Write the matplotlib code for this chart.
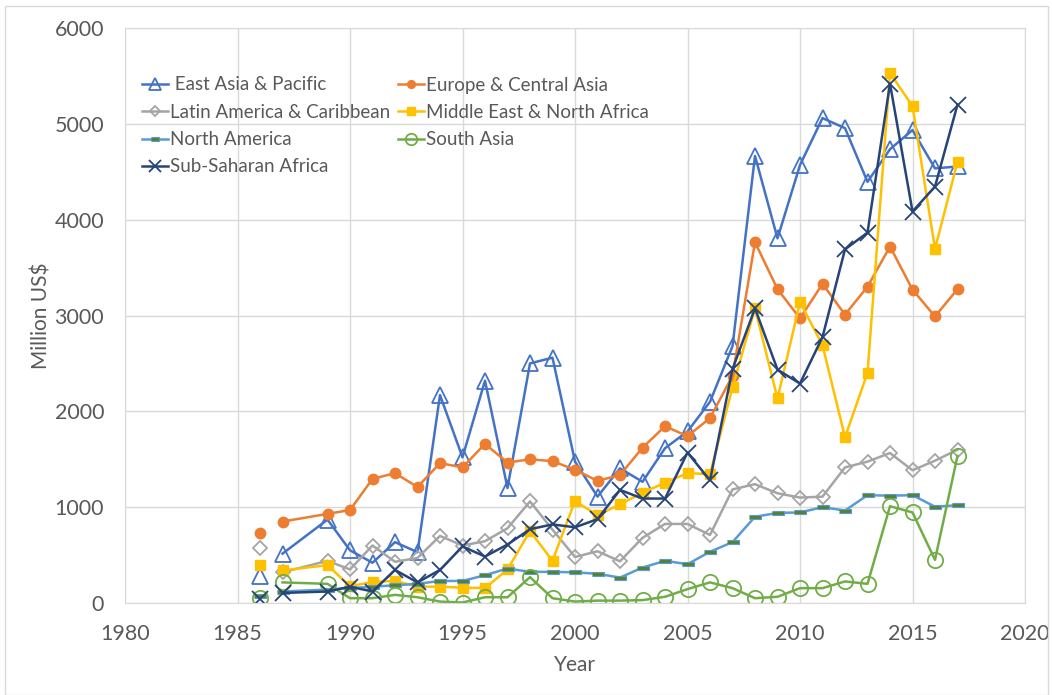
import matplotlib
matplotlib.use("Agg")
import matplotlib.pyplot as plt
from matplotlib.patches import Rectangle

plt.rcParams['font.family'] = ['Lato', 'DejaVu Sans']

# years with data (1988 missing, 1986 shown as loose points)
years = [1986, 1987, 1989, 1990, 1991, 1992, 1993, 1994, 1995, 1996, 1997, 1998, 1999,
         2000, 2001, 2002, 2003, 2004, 2005, 2006, 2007, 2008, 2009,
         2010, 2011, 2012, 2013, 2014, 2015, 2016, 2017]

east_asia = [280, 515, 870, 550, 420, 635, 530, 2170, 1520, 2320, 1200, 2500, 2560,
             1475, 1110, 1405, 1265, 1615, 1790, 2100, 2680, 4665, 3805,
             4570, 5060, 4955, 4395, 4735, 4935, 4535, 4555]
europe = [730, 850, 930, 970, 1295, 1355, 1210, 1460, 1415, 1660, 1465, 1500, 1480,
          1390, 1275, 1335, 1620, 1845, 1740, 1930, 2370, 3765, 3275,
          2970, 3330, 3010, 3300, 3720, 3270, 2990, 3275]
latin = [570, 320, 440, 350, 600, 430, 470, 700, 600, 645, 780, 1060, 765,
         480, 540, 435, 680, 825, 825, 710, 1185, 1240, 1145,
         1100, 1110, 1415, 1475, 1565, 1385, 1485, 1600]
mena = [400, 340, 395, 175, 220, 230, 170, 170, 160, 155, 350, 750, 440,
        1065, 915, 1030, 1150, 1255, 1355, 1345, 2250, 3075, 2135,
        3140, 2690, 1730, 2400, 5530, 5185, 3695, 4605]
north_america = [70, 120, 140, 155, 170, 185, 200, 230, 230, 290, 360, 325, 325,
                 320, 305, 265, 370, 440, 405, 535, 635, 900, 940,
                 945, 1000, 965, 1125, 1120, 1125, 1005, 1020]
south_asia = [50, 215, 200, 50, 50, 85, 60, 15, 5, 60, 60, 270, 50,
              15, 25, 25, 30, 65, 145, 215, 155, 50, 65,
              155, 155, 225, 200, 1010, 945, 450, 1535]
ssa = [40, 105, 120, 170, 120, 345, 215, 345, 590, 485, 610, 770, 820,
       790, 875, 1180, 1090, 1090, 1570, 1280, 2440, 3075, 2435,
       2290, 2775, 3690, 3865, 5420, 4085, 4345, 5200]

dash = [(-1, -0.4), (1, -0.4), (1, 0.4), (-1, 0.4)]

# name, values, line colour, marker style
series = [
    (' East Asia & Pacific', east_asia, '#4472C4',
     dict(marker='^', ms=11.5, mfc='none', mec='#4472C4', mew=1.3)),
    ('Europe & Central Asia', europe, '#ED7D31',
     dict(marker='o', ms=7.5, mfc='#ED7D31', mec='#ED7D31')),
    ('Latin America & Caribbean', latin, '#A5A5A5',
     dict(marker='D', ms=7, mfc='none', mec='#A5A5A5', mew=1.3)),
    ('Middle East & North Africa', mena, '#FFC000',
     dict(marker='s', ms=7, mfc='#FFC000', mec='#FFC000')),
    ('North America', north_america, '#5B9BD5',
     dict(marker=dash, ms=8, mfc='#548235', mec='#5B9BD5', mew=0.8)),
    ('South Asia', south_asia, '#70AD47',
     dict(marker='o', ms=11, mfc='none', mec='#70AD47', mew=1.3)),
    ('Sub-Saharan Africa', ssa, '#264478',
     dict(marker='x', ms=11, mec='#264478', mew=1.3)),
]

fig = plt.figure(figsize=(10.52, 6.95), dpi=100)
ax = fig.add_axes([125 / 1052, 92 / 695, 900 / 1052, 575 / 695])

handles = []
for name, vals, col, mk in series:
    line, = ax.plot(years[1:], vals[1:], color=col, lw=1.8, label=name, **mk)
    ax.plot(years[:1], vals[:1], ls='none', **mk)
    handles.append(line)

ax.set_xlim(1980, 2020)
ax.set_ylim(0, 6000)
ax.set_xticks(range(1980, 2021, 5))
ax.set_yticks(range(0, 6001, 1000))
ax.grid(True, color='#D9D9D9', lw=1)
ax.set_axisbelow(True)
for s in ax.spines.values():
    s.set_color('#D9D9D9')
ax.tick_params(length=0, pad=15, labelsize=15.5, labelcolor='#595959')
ax.set_xlabel('Year', fontsize=15, color='#595959', labelpad=8)
ax.set_ylabel('Million US$', fontsize=15, color='#595959', labelpad=2)

# legend laid out row-wise like Excel
order = [0, 2, 4, 6, 1, 3, 5]
leg = ax.legend([handles[i] for i in order], [series[i][0] for i in order],
                ncol=2, loc='upper left', bbox_to_anchor=(0.0, 0.945),
                frameon=False, fontsize=13.5, labelcolor='#595959',
                handlelength=1.4, handletextpad=0.1, columnspacing=0.4,
                labelspacing=0.55, markerscale=0.75, numpoints=1)

# chart border
fig.patches.append(Rectangle((5 / 1052, 0.0), 1043 / 1052, 689 / 695, transform=fig.transFigure,
                             fill=False, ec='#D9D9D9', lw=1))

fig.savefig('out.png', dpi=100)
